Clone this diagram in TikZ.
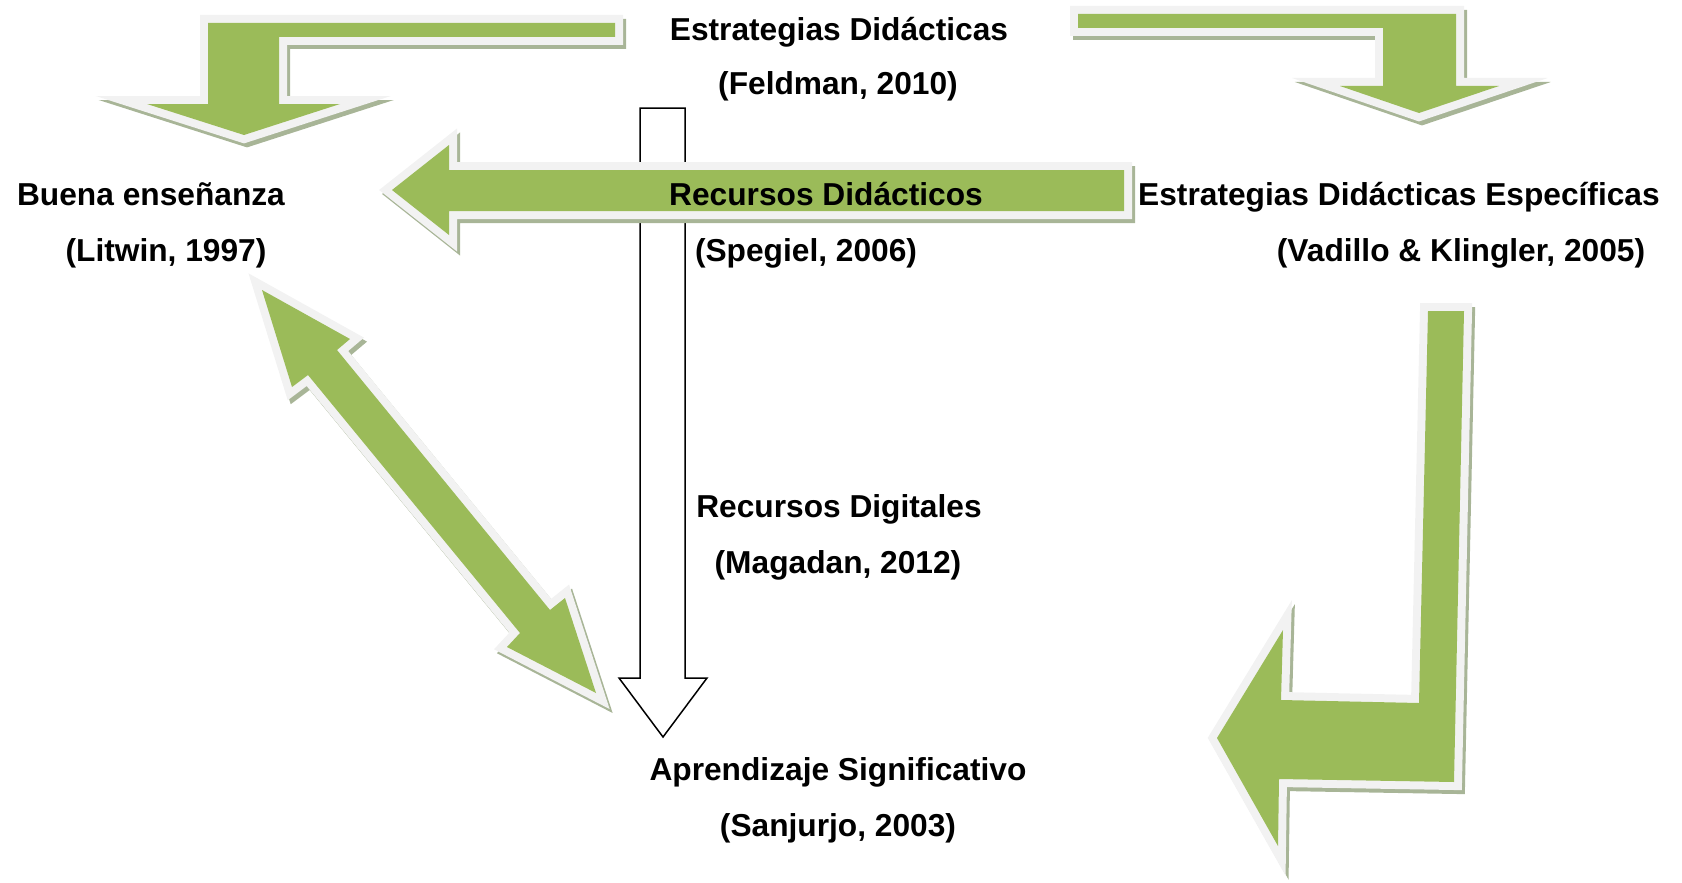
\documentclass[tikz,border=0pt]{standalone}
\usepackage{fontspec}
\setmainfont{Liberation Sans}
\usetikzlibrary{positioning}
\definecolor{argreen}{HTML}{9BBB59}
\definecolor{arlight}{HTML}{F2F2F2}
\definecolor{arshade}{HTML}{A8B597}

% green block arrow: shadow, light rim, fill
\newcommand{\greenarrow}[1]{%
  \filldraw[gshadow, shift={(3,4)}] #1;
  \filldraw[gborder] #1;
  \fill[garrow] #1;}

\begin{document}
\begin{tikzpicture}[
    x=1pt, y=-1pt,
    font=\fontsize{31.7}{38}\selectfont\bfseries,
    concept/.style={anchor=base, inner sep=0pt},
    garrow/.style={fill=argreen},
    gborder/.style={draw=arlight, fill=arlight, line width=16pt, line join=miter},
    gshadow/.style={draw=arshade, fill=arshade, line width=16pt, line join=miter},
    hollow/.style={draw=black, fill=white, line width=1.5pt}
  ]
  \useasboundingbox (0,0) rectangle (1682,883);

  % hollow arrow down to Aprendizaje
  \filldraw[hollow] (640,108) -- (685,108) -- (685,678) -- (707,678)
    -- (663,737) -- (619,678) -- (640,678) -- cycle;

  % green arrows
  \greenarrow{(615,23) -- (208,23) -- (208,104) -- (147,104) -- (244,135)
    -- (340,104) -- (279,104) -- (279,37) -- (615,37) -- cycle}
  \greenarrow{(1078,14) -- (1456,14) -- (1456,86) -- (1499,86) -- (1419,113)
    -- (1340,86) -- (1383,86) -- (1383,28) -- (1078,28) -- cycle}
  \greenarrow{(1124,170) -- (449,170) -- (449,145) -- (392,190) -- (449,235)
    -- (449,211) -- (1124,211) -- cycle}
  \greenarrow{(262,290) -- (350,339) -- (337,350) -- (550,610) -- (565,598)
    -- (596,693) -- (507,647) -- (520,633) -- (308,375) -- (292,387) -- cycle}
  \greenarrow{(1428,311) -- (1464,311) -- (1454,782) -- (1279,779) -- (1278,846)
    -- (1217,738) -- (1283,630) -- (1281,700) -- (1419,703) -- cycle}

  \node[concept] (estrat) at (839,41) {Estrategias Didácticas};
  \node[concept] (estratRef) at (838,95) {(Feldman, 2010)};
  \node[concept] (buena) at (151,205) {Buena enseñanza};
  \node[concept] (buenaRef) at (166,261) {(Litwin, 1997)};
  \node[concept] (recDid) at (826,205) {Recursos Didácticos};
  \node[concept] (recDidRef) at (806,261) {(Spegiel, 2006)};
  \node[concept] (estratEsp) at (1399,205) {Estrategias Didácticas Específicas};
  \node[concept] (estratEspRef) at (1461,261) {(Vadillo \& Klingler, 2005)};
  \node[concept] (recDig) at (839,517) {Recursos Digitales};
  \node[concept] (recDigRef) at (838,573) {(Magadan, 2012)};
  \node[concept] (aprend) at (838,780) {Aprendizaje Significativo};
  \node[concept] (aprendRef) at (838,836) {(Sanjurjo, 2003)};
\end{tikzpicture}
\end{document}
